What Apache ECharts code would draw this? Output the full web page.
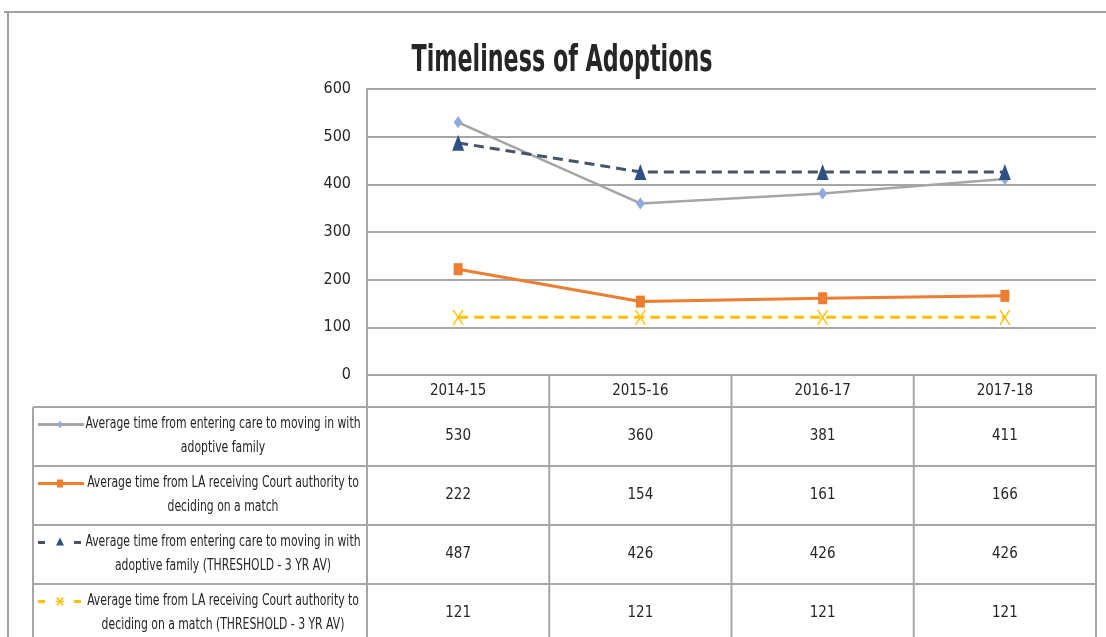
<!DOCTYPE html>
<html>
<head>
<meta charset="utf-8">
<title>Timeliness of Adoptions</title>
<script src="https://cdn.jsdelivr.net/npm/echarts@6/dist/echarts.min.js"></script>
<style>
    html, body { margin: 0; padding: 0; background: #fff; }
    #chart { width: 1106px; height: 637px; }
</style>
</head>
<body>
<div id="chart"></div>
<script>
// data
const categories = ['2014-15', '2015-16', '2016-17', '2017-18']
const enteringCare = [530, 360, 381, 411]
const courtToMatch = [222, 154, 161, 166]
const enteringCareThreshold = [487, 426, 426, 426]
const courtToMatchThreshold = [121, 121, 121, 121]
const seriesLabels = [
    ['Average time from entering care to moving in with', 'adoptive family'],
    ['Average time from LA receiving Court authority to', 'deciding on a match'],
    ['Average time from entering care to moving in with', 'adoptive family (THRESHOLD - 3 YR AV)'],
    ['Average time from LA receiving Court authority to', 'deciding on a match (THRESHOLD - 3 YR AV)'],
]
const yMin = 0
const yMax = 600
const yStep = 100

// layout
const plot = { left: 367, right: 1096, top: 89, bottom: 375 }
const colW = (plot.right - plot.left) / categories.length
const tableLeft = 33
const headerBottom = 407
const rowH = 59
const gridColor = '#A6A6A6'
const textColor = '#262626'
const narrow = '"Liberation Sans Narrow", "DejaVu Sans Condensed", "Arial Narrow", sans-serif'
const tableFont = '15px ' + narrow
const titleFont = 'bold 38px ' + narrow

const ctx = document.createElement('canvas').getContext('2d')
const textWidth = (text, font) => {
    ctx.font = font
    return ctx.measureText(text).width
}
// the reference text is squeezed horizontally, fit to the measured widths
const labelScale = 275 / textWidth(seriesLabels[0][0], tableFont)
const titleScale = 301 / textWidth('Timeliness of Adoptions', titleFont)

const seriesData = [enteringCare, courtToMatch, enteringCareThreshold, courtToMatchThreshold]
const styles = [
    { symbol: 'diamond', symbolSize: [9, 12], line: { color: '#A5A5A5', width: 2.5 }, item: { color: '#8FAADC' } },
    { symbol: 'rect', symbolSize: [9, 12], line: { color: '#ED7D31', width: 3 }, item: { color: '#ED7D31' } },
    { symbol: 'triangle', symbolSize: [12, 16], line: { color: '#44546A', width: 3, type: [10, 6] }, item: { color: '#2F5083' } },
    { symbol: 'path://M0,0L10,15M10,0L0,15', symbolSize: [10, 15], line: { color: '#FFC000', width: 3, type: [10, 6] },
        item: { color: 'none', borderColor: '#FFC000', borderWidth: 1.5 } },
]

const line = (x1, y1, x2, y2, stroke, lineWidth) => ({
    type: 'line', silent: true,
    shape: { x1, y1, x2, y2 },
    style: { stroke: stroke || gridColor, lineWidth: lineWidth || 2 },
})
const text = (str, x, y, font, scaleX) => ({
    type: 'text', silent: true, x, y, scaleX: scaleX || 1,
    style: { text: str, font, fill: textColor, align: 'center', verticalAlign: 'middle' },
})

// legend keys drawn in the data table
const legendKey = (i, cx, cy) => {
    const s = styles[i]
    const els = []
    if (s.line.type) {
        els.push(line(cx - 22, cy, cx - 15, cy, s.line.color, 3))
        els.push(line(cx + 14, cy, cx + 21, cy, s.line.color, 3))
    } else {
        els.push(line(cx - 22, cy, cx + 24, cy, s.line.color, 3))
    }
    if (i === 0) {
        els.push({ type: 'polygon', silent: true, shape: { points: [[cx, cy - 4], [cx + 2.5, cy], [cx, cy + 4], [cx - 2.5, cy]] }, style: { fill: s.item.color } })
    } else if (i === 1) {
        els.push({ type: 'rect', silent: true, shape: { x: cx - 3, y: cy - 4, width: 6, height: 8 }, style: { fill: s.item.color } })
    } else if (i === 2) {
        els.push({ type: 'polygon', silent: true, shape: { points: [[cx, cy - 5], [cx + 4, cy + 3], [cx - 4, cy + 3]] }, style: { fill: s.item.color } })
    } else {
        els.push(line(cx - 3, cy - 4, cx + 3, cy + 4, '#FFC000', 1.5))
        els.push(line(cx + 3, cy - 4, cx - 3, cy + 4, '#FFC000', 1.5))
        els.push(line(cx - 4, cy, cx + 4, cy, '#FFC000', 1.5))
    }
    return els
}

const graphics = []
// outer chart border
graphics.push(line(4, 12, 1106, 12, '#A0A0A0', 2))
graphics.push(line(8, 12, 8, 637, '#A0A0A0', 2))
// title
graphics.push(text('Timeliness of Adoptions', 562, 61, titleFont, titleScale))
// table grid
for (let r = 0; r < seriesData.length; r++) {
    const y = headerBottom + r * rowH
    graphics.push(line(tableLeft, y, plot.right, y))
}
graphics.push(line(tableLeft, headerBottom, tableLeft, 637))
for (let c = 0; c <= categories.length; c++) {
    const x = plot.left + c * colW
    graphics.push(line(x, plot.bottom, x, 637))
}
// table values and labels
seriesData.forEach((values, r) => {
    const cy = headerBottom + r * rowH + rowH / 2
    values.forEach((v, c) => {
        graphics.push(text(String(v), plot.left + colW * (c + 0.5), cy, tableFont))
    })
    graphics.push(text(seriesLabels[r][0], 223, cy - 12, tableFont, labelScale))
    graphics.push(text(seriesLabels[r][1], 223, cy + 12, tableFont, labelScale))
    legendKey(r, 60, cy - 12).forEach(el => graphics.push(el))
})

const chart = echarts.init(document.getElementById('chart'))
const option = {
    backgroundColor: '#fff',
    animation: false,
    grid: {
        left: plot.left,
        right: 1106 - plot.right,
        top: plot.top,
        bottom: 637 - plot.bottom,
        containLabel: false,
    },
    xAxis: {
        type: 'category',
        data: categories,
        boundaryGap: true,
        axisLine: { lineStyle: { color: gridColor, width: 2 } },
        axisTick: { show: false },
        axisLabel: { margin: 9, fontSize: 15, fontFamily: narrow, color: textColor },
    },
    yAxis: {
        type: 'value',
        min: yMin,
        max: yMax,
        interval: yStep,
        axisLine: { show: true, lineStyle: { color: gridColor, width: 2 } },
        axisTick: { show: false },
        splitLine: { lineStyle: { color: gridColor, width: 2 } },
        axisLabel: { margin: 16, fontSize: 16, fontFamily: narrow, color: textColor },
    },
    series: seriesData.map((data, i) => ({
        name: seriesLabels[i].join(' '),
        type: 'line',
        data,
        symbol: styles[i].symbol,
        symbolSize: styles[i].symbolSize,
        showSymbol: true,
        lineStyle: styles[i].line,
        itemStyle: styles[i].item,
        z: 2 + i,
    })),
    graphic: { elements: graphics },
}

option && chart.setOption(option)
</script>
</body>
</html>
